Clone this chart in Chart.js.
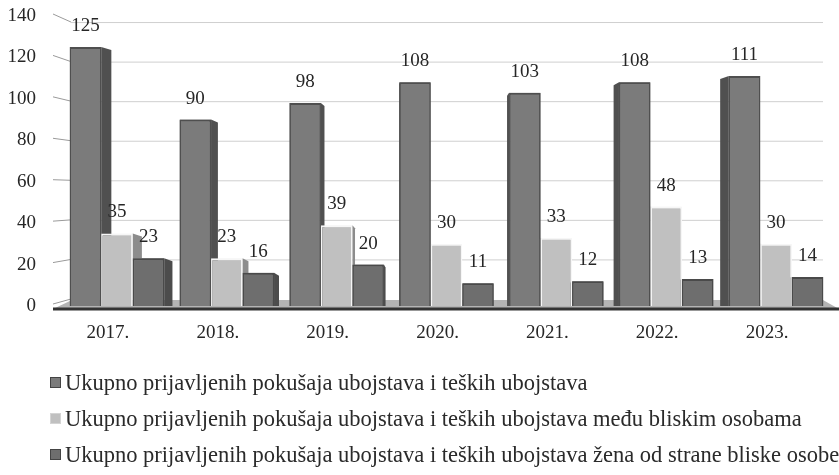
<!DOCTYPE html>
<html>
<head>
<meta charset="utf-8">
<script src="https://cdn.jsdelivr.net/npm/chart.js@4.4.0/dist/chart.umd.min.js"></script>
<style>
  html, body { margin: 0; padding: 0; background: #fff; }
  #wrap { width: 839px; height: 475px; position: relative; }
</style>
</head>
<body>
<div id="wrap"><canvas id="barChart"></canvas></div>
<script>
// data
const years = ['2017.', '2018.', '2019.', '2020.', '2021.', '2022.', '2023.'];
const totalAttempts = [125, 90, 98, 108, 103, 108, 111];
const closePersons = [35, 23, 39, 30, 33, 48, 30];
const womenByClose = [23, 16, 20, 11, 12, 13, 14];
const yTicks = [0, 20, 40, 60, 80, 100, 120, 140];
const seriesNames = [
  'Ukupno prijavljenih pokušaja ubojstava i teških ubojstava',
  'Ukupno prijavljenih pokušaja ubojstava i teških ubojstava među bliskim osobama',
  'Ukupno prijavljenih pokušaja ubojstava i teških ubojstava žena od strane bliske osobe'
];

const FONT = "'Liberation Serif', 'Times New Roman', serif";
const fronts = ['#7b7b7b', '#c0c0c0', '#6e6e6e'];
const borders = ['#4f4f4f', '#f6f6f6', '#4a4a4a'];
const sides = ['#505050', '#8c8c8c', '#4c4c4c'];
const vpX = 440;

// back wall: grid, little diagonal ticks, floor
const wallPlugin = {
  id: 'wall',
  beforeDatasetsDraw(chart) {
    const ctx = chart.ctx;
    const y = chart.scales.y;
    const area = chart.chartArea;
    const zero = y.getPixelForValue(0);
    const back = v => (zero - 7) + (y.getPixelForValue(v) - zero) * 0.955;
    ctx.save();
    ctx.lineWidth = 1;
    yTicks.forEach(v => {
      const yf = y.getPixelForValue(v);
      const yb = back(v);
      ctx.strokeStyle = '#9a9a9a';
      ctx.beginPath();
      ctx.moveTo(53, yf - 2);
      ctx.lineTo(71, yb);
      ctx.stroke();
      if (v > 0) {
        ctx.strokeStyle = '#cfcfcf';
        ctx.beginPath();
        ctx.moveTo(71, yb + 0.5);
        ctx.lineTo(area.right - 8, yb + 0.5);
        ctx.stroke();
      }
    });
    // floor
    ctx.fillStyle = '#b4b4b4';
    ctx.beginPath();
    ctx.moveTo(53, zero + 3);
    ctx.lineTo(72, zero - 6);
    ctx.lineTo(area.right - 8, zero - 6);
    ctx.lineTo(839, zero + 3);
    ctx.closePath();
    ctx.fill();
    ctx.strokeStyle = '#333';
    ctx.lineWidth = 3;
    ctx.beginPath();
    ctx.moveTo(53, zero + 3);
    ctx.lineTo(839, zero + 3);
    ctx.stroke();
    ctx.restore();
  }
};

// side faces, redraw fronts in depth order, then value labels
const bar3dPlugin = {
  id: 'bar3d',
  afterDatasetsDraw(chart) {
    const ctx = chart.ctx;
    const metas = [0, 1, 2].map(i => chart.getDatasetMeta(i));
    ctx.save();
    years.forEach((yr, j) => {
      const els = metas.map(m => m.data[j]);
      const onLeft = els[1].x > vpX;
      const order = onLeft ? [2, 1, 0] : [0, 1, 2];
      order.forEach(i => {
        const el = els[i];
        const p = el.getProps(['x', 'y', 'base', 'width'], true);
        const edge = onLeft ? p.x - p.width / 2 : p.x + p.width / 2;
        const d = (vpX - edge) * 0.03;
        ctx.fillStyle = sides[i];
        ctx.beginPath();
        ctx.moveTo(edge, p.y);
        ctx.lineTo(edge + d, p.y + 3);
        ctx.lineTo(edge + d, p.base);
        ctx.lineTo(edge, p.base);
        ctx.closePath();
        ctx.fill();
        el.draw(ctx);
      });
    });
    ctx.font = '19px ' + FONT;
    ctx.fillStyle = '#262626';
    ctx.textAlign = 'center';
    ctx.textBaseline = 'middle';
    metas.forEach((m, i) => {
      m.data.forEach((el, j) => {
        const v = chart.data.datasets[i].data[j];
        ctx.fillText(String(v), el.x, el.y - 21);
      });
    });
    ctx.restore();
  }
};

const legendPlugin = {
  id: 'flatLegend',
  afterDraw(chart) {
    const ctx = chart.ctx;
    ctx.save();
    ctx.font = '22.5px ' + FONT;
    ctx.textAlign = 'left';
    ctx.textBaseline = 'alphabetic';
    seriesNames.forEach((name, i) => {
      const base = 390 + i * 36;
      ctx.fillStyle = fronts[i];
      ctx.fillRect(50, base - 13, 11, 11);
      ctx.strokeStyle = i === 1 ? '#d4d4d4' : '#444';
      ctx.lineWidth = 1;
      ctx.strokeRect(50.5, base - 12.5, 10, 10);
      ctx.fillStyle = '#2a2a2a';
      ctx.fillText(name, 65, base);
    });
    ctx.restore();
  }
};

const ctx = document.getElementById('barChart').getContext('2d');

const barChart = new Chart(ctx, {
  type: 'bar',
  data: {
    labels: years,
    datasets: [0, 1, 2].map(i => ({
      label: seriesNames[i],
      data: [totalAttempts, closePersons, womenByClose][i],
      backgroundColor: fronts[i],
      borderColor: borders[i],
      borderWidth: { top: 2, left: 1.5, right: 1.5, bottom: 0 },
      borderSkipped: 'start',
      categoryPercentage: 0.86,
      barPercentage: 1
    }))
  },
  options: {
    responsive: true,
    maintainAspectRatio: false,
    animation: false,
    layout: { padding: { top: 16, right: 8, bottom: 133, left: 0 } },
    plugins: {
      legend: { display: false },
      tooltip: { enabled: false }
    },
    scales: {
      y: {
        min: 0,
        max: 140,
        afterFit: s => { s.width = 62; s.paddingTop = 0; s.paddingBottom = 0; },
        afterBuildTicks: s => { s.ticks = yTicks.map(v => ({ value: v })); },
        ticks: {
          color: '#262626',
          padding: 26,
          font: { size: 19, family: FONT }
        },
        grid: { display: false, drawTicks: false },
        border: { display: false }
      },
      x: {
        afterFit: s => { s.height = 36; s.paddingLeft = 0; s.paddingRight = 0; },
        ticks: {
          color: '#262626',
          padding: 16,
          labelOffset: -9,
          font: { size: 19, family: FONT }
        },
        grid: { display: false, drawTicks: false },
        border: { display: false }
      }
    }
  },
  plugins: [wallPlugin, bar3dPlugin, legendPlugin]
});
</script>
</body>
</html>
